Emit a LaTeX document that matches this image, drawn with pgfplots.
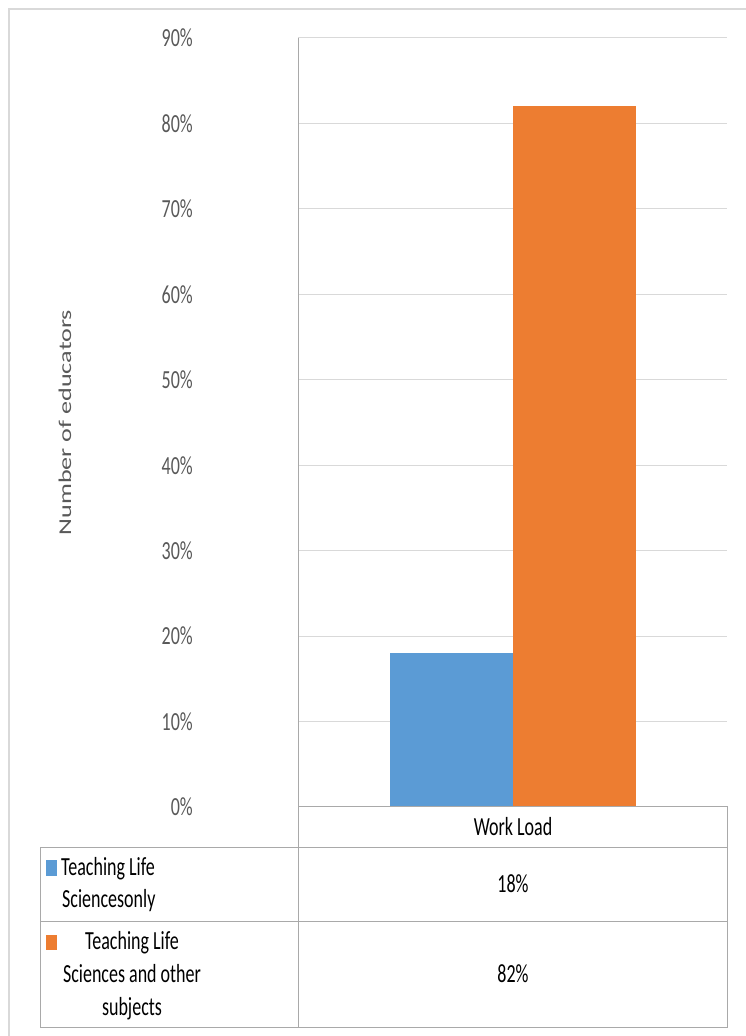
\documentclass[border=0pt]{standalone}
\usepackage{pgfplots}
\pgfplotsset{compat=1.18}
\usepackage{graphicx}
\usepackage{fontspec}
\setmainfont{Carlito}
\definecolor{cblue}{HTML}{5B9BD5}
\definecolor{corange}{HTML}{ED7D31}
\definecolor{tgray}{HTML}{595959}
\definecolor{lgray}{HTML}{A9A9A9}
\definecolor{ggray}{HTML}{D9D9D9}
\newcommand\st[1]{\scalebox{1}[1.45]{#1}}
\begin{document}
\begin{tikzpicture}
\fontsize{18}{22}\selectfont
\useasboundingbox (0pt,0pt) rectangle (745pt,1036pt);
% outer frame
\draw[ggray, line width=1.5pt] (9pt,-5pt) -- (9pt,1027pt) -- (760pt,1027pt);
\begin{axis}[
  at={(298pt,229pt)}, anchor=south west,
  width=429pt, height=769pt, scale only axis,
  ybar=0pt, bar width=123pt,
  xmin=-0.5, xmax=0.5,
  ymin=0, ymax=90, ytick={0,10,...,90},
  xtick=\empty,
  axis x line=none,
  axis y line*=left,
  y axis line style={lgray, line width=1pt, -},
  ytick style={draw=none},
  ymajorgrids, grid style={ggray, line width=1pt},
  /pgf/number format/assume math mode=true,
  yticklabel={\st{\pgfmathprintnumber{\tick}\%}},
  yticklabel style={anchor=east, inner sep=0pt, xshift=-105pt, text=tgray, font=\fontsize{18}{22}\selectfont},
  ylabel={\scalebox{1.45}[1]{Number of educators}},
  ylabel style={at={(axis description cs:0,0.5)}, anchor=center, yshift=233pt, text=tgray, font=\fontsize{18}{22}\selectfont},
  clip=false,
]
\addplot[fill=cblue, draw=none] coordinates {(0,18)};
\addplot[fill=corange, draw=none] coordinates {(0,82)};
\end{axis}
% data table
\draw[lgray, line width=1pt] (298pt,229pt) -- (727pt,229pt) -- (727pt,8pt) -- (40pt,8pt) -- (40pt,188pt) -- (727pt,188pt);
\draw[lgray, line width=1pt] (40pt,114pt) -- (727pt,114pt);
\draw[lgray, line width=1pt] (298pt,229pt) -- (298pt,8pt);
\node[anchor=base, inner sep=0pt] at (513pt,200pt) {\st{Work Load}};
\node[anchor=base, inner sep=0pt] at (513pt,143pt) {\st{18\%}};
\node[anchor=base, inner sep=0pt] at (513pt,53pt) {\st{82\%}};
\fill[cblue] (46pt,160pt) rectangle (57pt,176pt);
\fill[corange] (46pt,86pt) rectangle (57pt,101pt);
\node[anchor=base west, inner sep=0pt] at (61pt,160pt) {\st{Teaching Life}};
\node[anchor=base west, inner sep=0pt] at (62pt,128pt) {\st{Sciencesonly}};
\node[anchor=base, inner sep=0pt] at (132pt,86pt) {\st{Teaching Life}};
\node[anchor=base, inner sep=0pt] at (132pt,53.5pt) {\st{Sciences and other}};
\node[anchor=base, inner sep=0pt] at (132pt,21pt) {\st{subjects}};
\end{tikzpicture}
\end{document}
